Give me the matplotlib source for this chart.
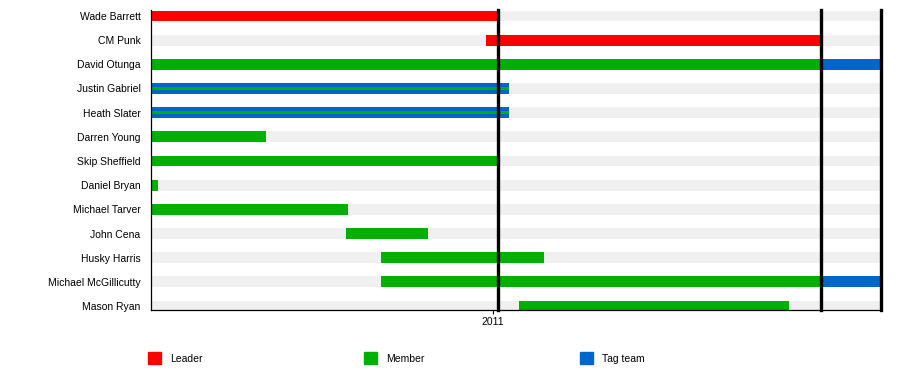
import datetime as dt
import matplotlib
matplotlib.use('Agg')
import matplotlib.pyplot as plt
import matplotlib.dates as mdates
from matplotlib.patches import Rectangle

plt.rcParams['font.family'] = ['Liberation Sans', 'DejaVu Sans']

# members, top to bottom
members = ['Wade Barrett', 'CM Punk', 'David Otunga', 'Justin Gabriel', 'Heath Slater',
           'Darren Young', 'Skip Sheffield', 'Daniel Bryan', 'Michael Tarver',
           'John Cena', 'Husky Harris', 'Michael McGillicutty', 'Mason Ryan']

# (member, start, end, role)
periods = [
    ('Wade Barrett', '2010-06-07', '2011-01-01', 'Leader'),
    ('CM Punk', '2010-12-25', '2011-07-14', 'Leader'),
    ('David Otunga', '2010-06-07', '2011-07-14', 'Member'),
    ('David Otunga', '2011-07-14', '2011-08-19', 'Tag team'),
    ('Justin Gabriel', '2010-06-07', '2011-01-08', 'Member+Tag'),
    ('Heath Slater', '2010-06-07', '2011-01-08', 'Member+Tag'),
    ('Darren Young', '2010-06-07', '2010-08-15', 'Member'),
    ('Skip Sheffield', '2010-06-07', '2011-01-01', 'Member'),
    ('Daniel Bryan', '2010-06-07', '2010-06-11', 'Member'),
    ('Michael Tarver', '2010-06-07', '2010-10-03', 'Member'),
    ('John Cena', '2010-10-02', '2010-11-20', 'Member'),
    ('Husky Harris', '2010-10-23', '2011-01-29', 'Member'),
    ('Michael McGillicutty', '2010-10-23', '2011-07-14', 'Member'),
    ('Michael McGillicutty', '2011-07-14', '2011-08-19', 'Tag team'),
    ('Mason Ryan', '2011-01-14', '2011-06-25', 'Member'),
]

start_date = '2010-06-07'
end_date = '2011-08-19'
event_lines = ['2011-01-01', '2011-07-14', '2011-08-19']

colors = {'Leader': '#ff0000', 'Member': '#00b000', 'Tag team': '#0066cc'}


def d(s):
    return mdates.date2num(dt.datetime.strptime(s, '%Y-%m-%d'))


fig = plt.figure(figsize=(9, 3.7), dpi=100)
ax = fig.add_axes([151 / 900, 1 - 310 / 370, 730 / 900, 300 / 370])

x0, x1 = d(start_date), d(end_date)
h = 0.455

# grey background rows
for i, m in enumerate(members):
    ax.barh(i, x1 - x0, left=x0, height=h, color='#f0f0f0', zorder=1)

for m, s, e, role in periods:
    i = members.index(m)
    if role == 'Member+Tag':
        ax.barh(i, d(e) - d(s), left=d(s), height=h, color=colors['Tag team'], zorder=2)
        ax.barh(i, d(e) - d(s), left=d(s), height=0.13, color=colors['Member'], zorder=3)
    else:
        ax.barh(i, d(e) - d(s), left=d(s), height=h, color=colors[role], zorder=2)

for ev in event_lines:
    ax.axvline(d(ev), color='black', lw=2.4, zorder=4, clip_on=False)

ax.set_xlim(x0, x1)
ax.set_ylim(12 + 4 / 24.17, -6 / 24.17)
ax.set_yticks(range(len(members)))
ax.set_yticklabels(members, fontsize=7.5)
ax.tick_params(axis='y', length=0, pad=7.5)
ax.set_xticks([d('2010-12-29')])
ax.set_xticklabels(['2011'], fontsize=7.5)
ax.tick_params(axis='x', length=3, width=0.8, pad=2)

for sp in ['top', 'right']:
    ax.spines[sp].set_visible(False)
for sp in ['left', 'bottom']:
    ax.spines[sp].set_linewidth(0.9)
    ax.spines[sp].set_zorder(5)

# legend
legend_items = [('Leader', 148), ('Member', 364), ('Tag team', 580)]
for label, px in legend_items:
    fig.patches.append(Rectangle((px / 900, 1 - 364 / 370), 13 / 900, 12 / 370,
                                 transform=fig.transFigure, color=colors[label]))
    fig.text((px + 22) / 900, 1 - 359 / 370, label, fontsize=7.5, va='center', ha='left')

fig.savefig('out.png', dpi=100)
